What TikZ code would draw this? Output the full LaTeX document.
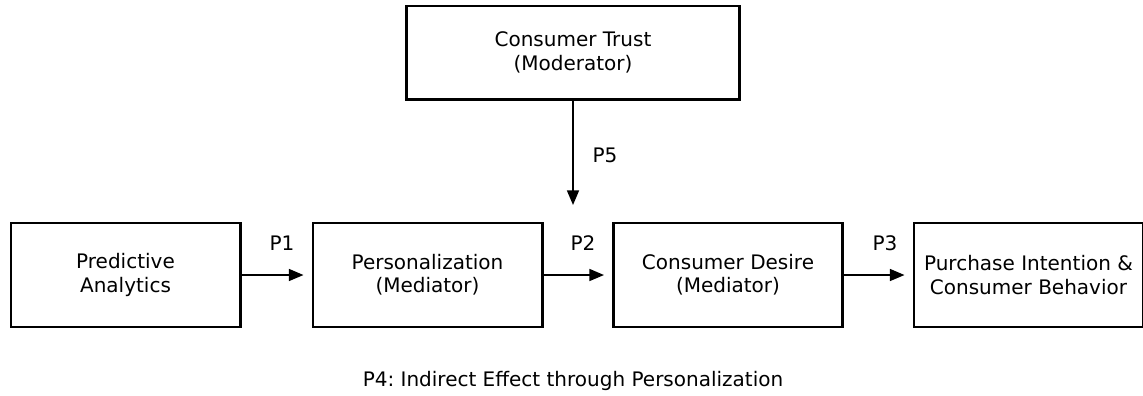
\documentclass[tikz,border=0pt]{standalone}
\usepackage{fontspec}
\setmainfont{DejaVu Sans}
\usetikzlibrary{arrows.meta}
\begin{document}
\frenchspacing
\begin{tikzpicture}[x=0.75pt,y=-0.75pt,
  box/.style={draw=black,line width=2pt,minimum width=172pt,minimum height=78pt,
    align=center,font=\fontsize{15}{17.5}\selectfont,inner sep=0pt},
  topbox/.style={box,minimum width=250pt,minimum height=70pt},
  conn/.style={line width=1.3pt,-{Triangle[length=11pt,width=9pt]}},
  plabel/.style={font=\fontsize{15}{17.5}\selectfont,inner sep=0pt}]
\useasboundingbox (0,0) rectangle (1143,396);
\node[topbox] (trust) at (573,52.5) {Consumer Trust\\(Moderator)};
\node[box] (pa) at (125.5,275) {Predictive\\Analytics};
\node[box] (pers) at (427.5,275) {Personalization\\(Mediator)};
\node[box] (des) at (728,275) {Consumer Desire\\(Mediator)};
\node[box] (pi) at (1028.5,275) {Purchase Intention \&\\Consumer Behavior};
\coordinate (mod) at (573,205);
\draw[conn,shorten >=6pt] (pa) -- (pers);
\draw[conn,shorten >=6pt] (pers) -- (des);
\draw[conn,shorten >=6pt] (des) -- (pi);
\draw[conn] (trust) -- (mod);
\node[plabel] (p1) at (282,243) {P1};
\node[plabel] (p2) at (583,243) {P2};
\node[plabel] (p3) at (885,243) {P3};
\node[plabel] (p5) at (605,155) {P5};
\node[plabel] (p4) at (573,381) {P4: Indirect Effect through Personalization};
\end{tikzpicture}
\end{document}
